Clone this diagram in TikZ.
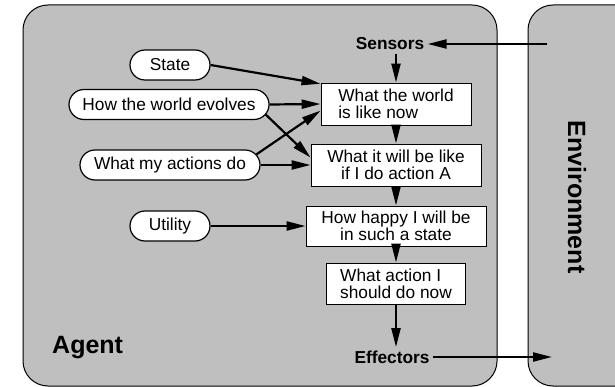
\documentclass[tikz,border=0pt]{standalone}
\usepackage{fontspec}
\setmainfont{Liberation Sans}
\usetikzlibrary{arrows.meta,shapes.misc}
\definecolor{agentgray}{gray}{0.75}
\begin{document}
\begin{tikzpicture}[x=1pt,y=-1pt]
        \tikzstyle{every node}=[font=\fontsize{17.3}{17.3}\selectfont];
        \tikzstyle{oval}=[rounded rectangle, draw, fill=white, line width=1.2pt, minimum height=30pt, inner xsep=0pt];
        \tikzstyle{box}=[rectangle, draw, fill=white, line width=0.9pt, inner sep=0pt];
        \tikzstyle{arr}=[-{Triangle[length=19pt,width=9pt]}, line width=2.2pt];
        \tikzstyle{lbl}=[font=\fontsize{17.3}{17.3}\selectfont\bfseries];
        \tikzstyle{big}=[font=\fontsize{25}{25}\selectfont\bfseries];
        \useasboundingbox (0,0) rectangle (615,387);
        % agent and environment
        \draw[fill=agentgray, rounded corners=25pt, line width=1pt] (23,5) rectangle (497,386);
        \draw[fill=agentgray, rounded corners=25pt, line width=1pt] (660,5) -- (528,5) -- (528,386) -- (660,386);
        \node[big, anchor=west, inner sep=0pt] (agent) at (52,348) {Agent};
        \node[big, rotate=-90] (env) at (577,197) {Environment};
        \node[lbl] (sens) at (390,44) {Sensors};
        \node[lbl] (eff) at (392,357) {Effectors};
        \coordinate (envin) at (547,44);
        \coordinate (envout) at (552,357);
        % knowledge
        \node[oval, minimum width=80pt] (state) at (170,65) {State};
        \node[oval, minimum width=200pt] (evolves) at (169,104.5) {How the world evolves};
        \node[oval, minimum width=180pt] (actions) at (170,165) {What my actions do};
        \node[oval, minimum width=80pt] (utility) at (170,226) {Utility};
        % reasoning
        \node[box, minimum width=150pt, minimum height=42pt, align=left] (b1) at (396,104) {What the world\\is like now};
        \node[box, minimum width=170pt, minimum height=42pt, align=center] (b2) at (396,165) {What it will be like\\if I do action A};
        \node[box, minimum width=180pt, minimum height=40pt, align=center] (b3) at (396,226) {How happy I will be\\in such a state};
        \node[box, minimum width=139pt, minimum height=41pt, align=left] (b4) at (396,283.5) {What action I\\should do now};
        \draw[arr] (envin) -- (sens.east);
        \draw[arr] (sens.south -| b1.north) -- (b1.north);
        \draw[arr] (b1.south) -- (b2.north);
        \draw[arr] (b2.south) -- (b3.north);
        \draw[arr] (b3.south) -- (b4.north);
        \draw[arr] (b4.south) -- (eff.north -| b4.south);
        \draw[arr] (eff.east) -- (envout);
        \draw[arr] (state.east) -- (b1.165);
        \draw[arr] (evolves.east) -- (b1.west);
        \draw[arr] (evolves.-6) -- (b2.175);
        \draw[arr] (actions.7) -- (b1.-175);
        \draw[arr] (actions.east) -- (b2.west);
        \draw[arr] (utility.east) -- (b3.west);
\end{tikzpicture}
\end{document}
